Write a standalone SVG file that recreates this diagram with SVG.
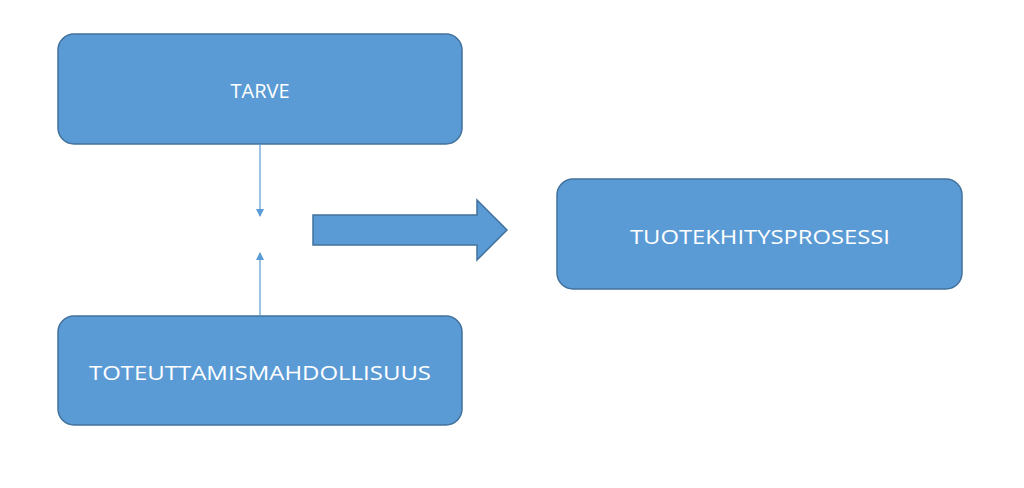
<svg xmlns="http://www.w3.org/2000/svg" width="1024" height="488" viewBox="0 0 1024 488">
<style>
.box{fill:#5b9bd5;stroke:#41719c;stroke-width:1.5}
.lbl{font-family:"Open Sans","Liberation Sans",sans-serif;font-size:20px;fill:#fff;text-anchor:middle;dominant-baseline:central}
.con{stroke:#5b9bd5;stroke-width:1.2;fill:none}
</style>
<defs><marker id="ah" markerWidth="8" markerHeight="8" refX="7" refY="4" orient="auto" markerUnits="userSpaceOnUse"><path d="M0,0 L8,4 L0,8 Z" fill="#5b9bd5"/></marker></defs>
<rect width="1024" height="488" fill="#fff"/>
<g id="tarve"><rect class="box" x="58" y="34" width="404" height="110" rx="16"/><text class="lbl" x="260" y="90">TARVE</text></g>
<g id="toteuttamis"><rect class="box" x="58" y="316" width="404" height="109" rx="16"/><text class="lbl" x="260" y="372" textLength="342" lengthAdjust="spacingAndGlyphs">TOTEUTTAMISMAHDOLLISUUS</text></g>
<g id="tuote"><rect class="box" x="557" y="179" width="405" height="110" rx="16"/><text class="lbl" x="760" y="236" textLength="260" lengthAdjust="spacingAndGlyphs">TUOTEKHITYSPROSESSI</text></g>
<g id="connectors">
<line class="con" x1="260" y1="144" x2="260" y2="216" marker-end="url(#ah)"/>
<line class="con" x1="260" y1="316" x2="260" y2="253" marker-end="url(#ah)"/>
<path class="box" d="M313,215 L477,215 L477,200 L507,230 L477,260 L477,245 L313,245 Z"/>
</g>
</svg>
